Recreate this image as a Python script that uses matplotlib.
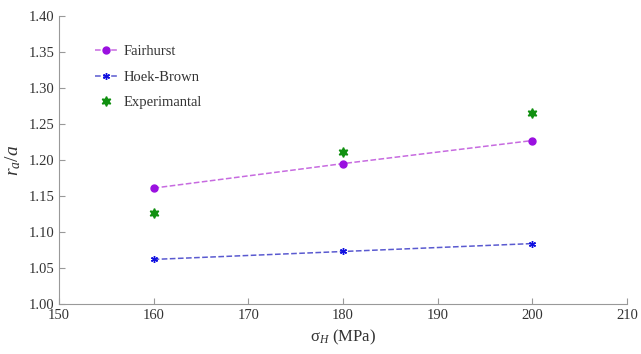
import numpy as np
import matplotlib
matplotlib.use('Agg')
import matplotlib.pyplot as plt

plt.rcParams['font.family'] = ['Liberation Serif', 'DejaVu Serif']
plt.rcParams['mathtext.fontset'] = 'custom'
plt.rcParams['mathtext.rm'] = 'Liberation Serif'
plt.rcParams['mathtext.it'] = 'Liberation Serif:italic'

# data
sigma_h = [160, 180, 200]
fairhurst = [1.161, 1.195, 1.227]
hoek_brown = [1.062, 1.073, 1.084]
experimental = [1.126, 1.211, 1.265]

fig = plt.figure(figsize=(6.41, 3.54), dpi=100)
ax = fig.add_axes([0.092, 0.141, 0.886, 0.814])

ax.plot(sigma_h, fairhurst, linestyle='--', color='#c76be0', linewidth=1.1,
        marker='o', markersize=5, markerfacecolor='#9a10e0', markeredgecolor='#9a10e0',
        label='Fairhurst')
ax.plot(sigma_h, hoek_brown, linestyle='--', color='#5a5ad0', linewidth=1.1,
        marker=(6, 2, 0), markersize=5, markerfacecolor='#1010e0', markeredgecolor='#1010e0',
        markeredgewidth=1.0, label='Hoek-Brown')
ax.plot(sigma_h, experimental, linestyle='none',
        marker=(6, 1, 0), markersize=7, markerfacecolor='#109010', markeredgecolor='#109010',
        label='Experimantal')

ax.set_xlim(150, 210)
ax.set_ylim(1.00, 1.40)
ax.set_xticks(np.arange(150, 211, 10))
ax.set_yticks(np.arange(1.00, 1.401, 0.05))
ax.set_yticklabels(['%.2f' % v for v in np.arange(1.00, 1.401, 0.05)])

for s in ['top', 'right']:
    ax.spines[s].set_visible(False)
for s in ['left', 'bottom']:
    ax.spines[s].set_color('#999999')
    ax.spines[s].set_linewidth(0.8)
ax.tick_params(direction='in', length=4, color='#999999', labelsize=10.5, labelcolor='#333333')

ax.set_xlabel('\u03c3$_{H}$ (MPa)', fontsize=12, color='#333333', labelpad=4)
ax.set_ylabel(r'$r_a/a$', fontsize=14, color='#333333', labelpad=4)

ax.legend(loc='upper left', bbox_to_anchor=(0.04, 0.945), frameon=False, fontsize=10.5,
          handlelength=1.5, handletextpad=0.5, labelspacing=0.85, labelcolor='#333333')

fig.savefig('out.png', dpi=100)
plt.close(fig)
